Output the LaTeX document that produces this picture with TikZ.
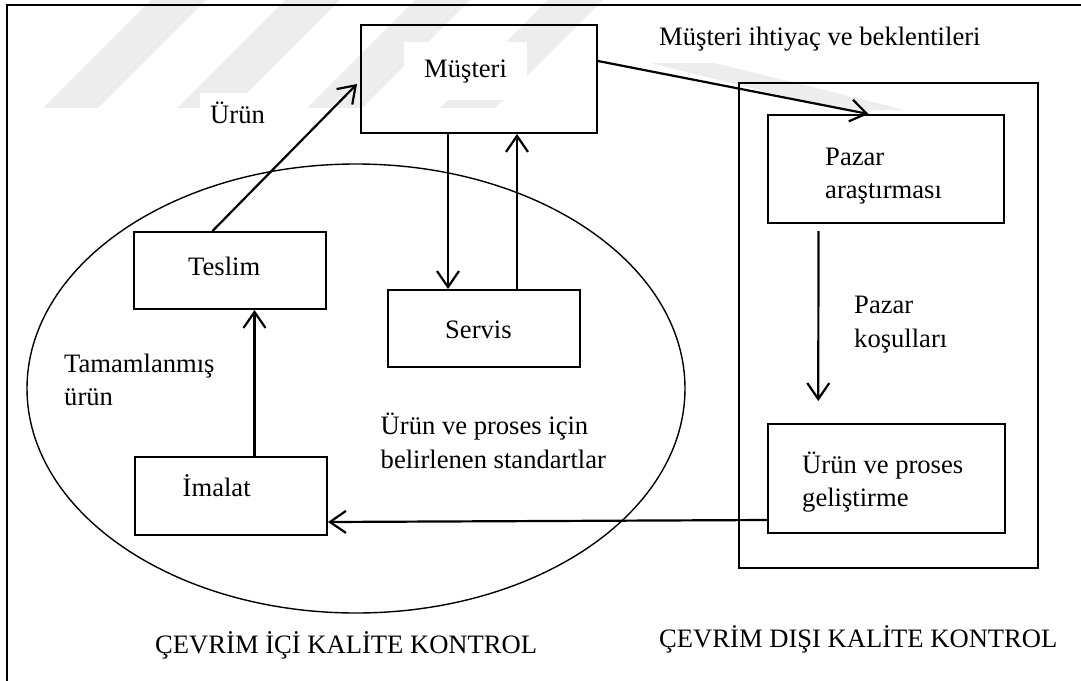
\documentclass[tikz,border=0pt]{standalone}
\usepackage{fontspec}
\setmainfont{Liberation Serif}
\usetikzlibrary{arrows.meta,calc,shapes.geometric}
\begin{document}
\begin{tikzpicture}[x=1pt,y=-1pt,
  every node/.style={font=\fontsize{26.6}{34}\selectfont},
  box/.style={draw,line width=2pt,inner sep=0pt,rectangle},
  lbl/.style={anchor=base west,inner sep=0pt},
  arr/.style={line width=2.2pt,-{Straight Barb[length=16pt,width=22pt]}},
  wm/.style={fill=black!7,draw=none}]
\useasboundingbox (0,0) rectangle (1081,680);
% watermark
\fill[wm] (43,108) -- (98,108) -- (206,0) -- (151,0) -- cycle;
\fill[wm] (177,108) -- (232,108) -- (340,0) -- (285,0) -- cycle;
\fill[wm] (307,108) -- (362,108) -- (470,0) -- (415,0) -- cycle;
\fill[wm] (440,108) -- (495,108) -- (603,0) -- (548,0) -- cycle;
\fill[wm] (650,63) -- (715,63) -- (905,110) -- (840,110) -- cycle;
% outer frame
\draw[line width=2pt] (7,690) -- (7,5) -- (1090,5);
% ellipse
\node[draw,ellipse,line width=1.4pt,inner sep=0pt,minimum width=658pt,minimum height=449pt] (el) at (356,388.5) {};
% boxes
\node[box,minimum width=236pt,minimum height=108pt] (mu) at (479,79) {};
\node[box,minimum width=192pt,minimum height=77pt] (te) at (230,270.5) {};
\node[box,minimum width=192pt,minimum height=77pt] (sv) at (484,328.5) {};
\node[box,minimum width=192pt,minimum height=78pt] (im) at (231,496) {};
\node[box,minimum width=299pt,minimum height=485pt] (ob) at (888.5,325.5) {};
\node[box,minimum width=236pt,minimum height=108pt] (pa) at (886,169) {};
\node[box,minimum width=236.5pt,minimum height=109pt] (ug) at (886.5,478.5) {};
% texts
\node[lbl,fill=white,inner xsep=20pt,inner ysep=17pt] (tmu) at (404,77) {Müşteri};
\node[lbl,fill=white,inner xsep=10pt,inner ysep=8pt] (turun) at (200,123) {Ürün};
\node[lbl] (tte) at (188,275) {Teslim};
\node[lbl] (tsv) at (445,338) {Servis};
\node[lbl] (tim) at (182.5,496) {İmalat};
\node[lbl] (tta1) at (64,372) {Tamamlanmış};
\node[lbl] (tta2) at (64,405) {ürün};
\node[lbl] (tst1) at (380.5,434) {Ürün ve proses için};
\node[lbl] (tst2) at (380.5,468) {belirlenen standartlar};
\node[lbl] (tmb) at (659,45) {Müşteri ihtiyaç ve beklentileri};
\node[lbl] (tpa1) at (825,165) {Pazar};
\node[lbl] (tpa2) at (825,198) {araştırması};
\node[lbl] (tpk1) at (854,313) {Pazar};
\node[lbl] (tpk2) at (854,347) {koşulları};
\node[lbl] (tug1) at (802,473) {Ürün ve proses};
\node[lbl] (tug2) at (802,506) {geliştirme};
\node[lbl] (tici) at (155,653) {ÇEVRİM İÇİ KALİTE KONTROL};
\node[lbl] (tdisi) at (659,647) {ÇEVRİM DIŞI KALİTE KONTROL};
% connectors
\draw[arr] ($(te.north west)+(79.5,0)$) -- ($(mu.north west)+(-3,60)$);
\draw[arr] ($(mu.south west)+(88,0)$) -- ($(sv.north west)+(61,0)$);
\draw[arr] ($(sv.north west)+(130,0)$) -- ($(mu.south west)+(157,0)$);
\draw[arr] ($(im.north west)+(120.5,0)$) -- ($(te.south west)+(121.5,0)$);
\draw[arr] ($(mu.north east)+(0,37)$) -- ($(pa.north west)+(101.5,0)$);
\draw[arr] ($(pa.south west)+(51.5,7)$) -- ($(ug.north west)+(51,-22)$);
\draw[arr] ($(ug.south west)+(0,-14)$) -- ($(im.south east)+(0,-14)$);
\end{tikzpicture}
\end{document}
